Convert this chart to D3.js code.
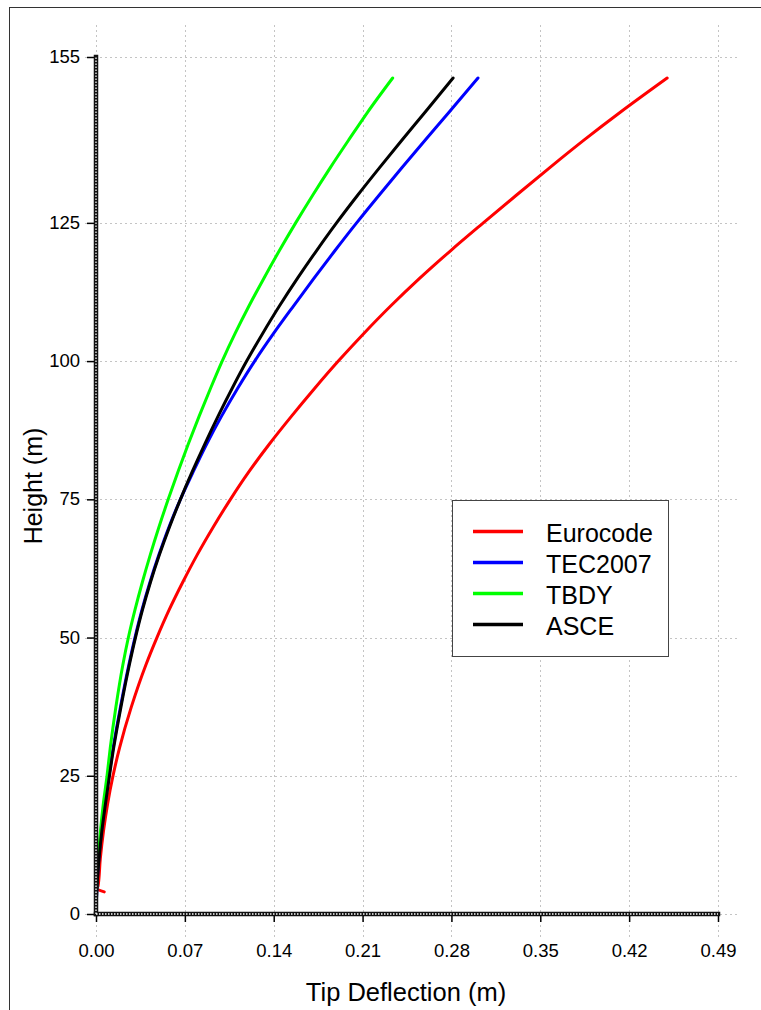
<!DOCTYPE html>
<html>
<head>
<meta charset="utf-8">
<script src="https://cdn.jsdelivr.net/npm/d3@7"></script>
<style>
  html, body { margin: 0; padding: 0; background: #fff; }
  svg { display: block; }
  text { font-family: "Liberation Sans", Arial, sans-serif; fill: #000; }
</style>
</head>
<body>
<svg id="chart" width="761" height="1010"></svg>
<script>
// Heights along the tower (m) at which tip deflections are sampled
const heights = [0, 5, 10, 15, 20, 25, 30, 37.5, 45, 50, 55, 60, 65, 70, 75, 80, 85, 90,
                 95, 100, 105, 110, 115, 120, 125, 130, 135, 140, 145, 151.2];

// Deflection (m) for each code at the heights above
const eurocode = [null, 0.0016, 0.0034, 0.0059, 0.0092, 0.0134, 0.0185, 0.0279, 0.0392, 0.0480,
                  0.0576, 0.0683, 0.0798, 0.0924, 0.1059, 0.1205, 0.1366, 0.1539, 0.1720, 0.1909,
                  0.2110, 0.2323, 0.2551, 0.2795, 0.3051, 0.3311, 0.3575, 0.3846, 0.4130, 0.4500];
const tec2007  = [0, 0.0008, 0.0022, 0.0043, 0.0071, 0.0102, 0.0135, 0.0193, 0.0258, 0.0307,
                  0.0362, 0.0425, 0.0496, 0.0575, 0.0665, 0.0766, 0.0872, 0.0988, 0.1114, 0.1250,
                  0.1399, 0.1557, 0.1718, 0.1883, 0.2053, 0.2230, 0.2411, 0.2594, 0.2781, 0.3009];
const tbdy     = [0, 0.0006, 0.0018, 0.0035, 0.0058, 0.0087, 0.0112, 0.0157, 0.0211, 0.0255,
                  0.0307, 0.0365, 0.0428, 0.0496, 0.0569, 0.0646, 0.0727, 0.0812, 0.0901, 0.0994,
                  0.1096, 0.1206, 0.1323, 0.1445, 0.1573, 0.1707, 0.1846, 0.1991, 0.2139, 0.2337];
const asce     = [0, 0.0008, 0.0024, 0.0046, 0.0075, 0.0106, 0.0139, 0.0197, 0.0262, 0.0311,
                  0.0366, 0.0429, 0.0500, 0.0579, 0.0665, 0.0758, 0.0857, 0.0961, 0.1071, 0.1187,
                  0.1313, 0.1446, 0.1588, 0.1738, 0.1895, 0.2061, 0.2234, 0.2411, 0.2592, 0.2813];

// Short kink at the foot of the Eurocode curve
const eurocodeFootHeights = [4.0, 4.6];
const eurocodeFootDefl    = [0.0065, 0.0005];

// Axis ticks
const xTicks = [0, 0.07, 0.14, 0.21, 0.28, 0.35, 0.42, 0.49];
const yTicks = [0, 25, 50, 75, 100, 125, 155];

// Legend entries
const seriesNames  = ["Eurocode", "TEC2007", "TBDY", "ASCE"];
const seriesColors = ["#ff0000", "#0000ff", "#00ff00", "#000000"];

const svg = d3.select("#chart");

const x = d3.scaleLinear().domain([0, 0.49]).range([96, 718]);
const y = d3.scaleLinear().domain([0, 155]).range([914, 57]);

// Outer frame
svg.append("rect")
  .attr("x", 9.5).attr("y", 7.5)
  .attr("width", 800).attr("height", 1050)
  .attr("fill", "none").attr("stroke", "#333").attr("stroke-width", 1);

// Dotted grid, reaching slightly past the plot area
const grid = svg.append("g")
  .attr("stroke", "#c4c4c4").attr("stroke-width", 1).attr("stroke-dasharray", "2,3");
grid.selectAll("line.v").data(xTicks).join("line")
  .attr("class", "v")
  .attr("x1", d => Math.round(x(d)) + 0.5).attr("x2", d => Math.round(x(d)) + 0.5)
  .attr("y1", 25).attr("y2", 940);
grid.selectAll("line.h").data(yTicks).join("line")
  .attr("class", "h")
  .attr("y1", d => Math.round(y(d)) + 0.5).attr("y2", d => Math.round(y(d)) + 0.5)
  .attr("x1", 85).attr("x2", 740);

// Curves
const line = d3.line()
  .curve(d3.curveMonotoneY)
  .x(d => x(d[0]))
  .y(d => y(d[1]));

const eurocodePts = eurocodeFootHeights.map((h, i) => [eurocodeFootDefl[i], h])
  .concat(heights.map((h, i) => [eurocode[i], h]).filter(d => d[0] != null));

const series = [
  eurocodePts,
  heights.map((h, i) => [tec2007[i], h]),
  heights.map((h, i) => [tbdy[i], h]),
  heights.map((h, i) => [asce[i], h])
];

svg.append("g").selectAll("path").data(series).join("path")
  .attr("d", line)
  .attr("fill", "none")
  .attr("stroke", (d, i) => seriesColors[i])
  .attr("stroke-width", 3)
  .attr("stroke-linejoin", "round")
  .attr("stroke-linecap", "round");

// Axes built with d3 axis generators, restyled as heavy dotted spines
const xAxis = svg.append("g")
  .attr("transform", `translate(0,${y(0)})`)
  .call(d3.axisBottom(x).tickValues(xTicks).tickFormat(d3.format(".2f")).tickSize(8).tickPadding(24));
const yAxis = svg.append("g")
  .attr("transform", `translate(${x(0)},0)`)
  .call(d3.axisLeft(y).tickValues(yTicks).tickSize(9).tickPadding(7));

[xAxis, yAxis].forEach(g => {
  g.select(".domain").remove();
  g.selectAll(".tick line").attr("stroke", "#000").attr("stroke-width", 1.5);
  g.selectAll("text")
    .attr("fill", "#000")
    .style("font-family", "'Liberation Sans', Arial, sans-serif")
    .style("font-size", "18.5px");
});
xAxis.selectAll("text").attr("dy", null).attr("y", 43);
yAxis.selectAll("text").attr("dy", "0.3em");

// Heavy spines with a white dotted core
const spines = [
  [x(0), y(0), x(0.49), y(0)],
  [x(0), y(0), x(0), y(155)]
];
svg.append("g").selectAll("line").data(spines).join("line")
  .attr("x1", d => d[0]).attr("y1", d => d[1]).attr("x2", d => d[2]).attr("y2", d => d[3])
  .attr("stroke", "#111").attr("stroke-width", 4.5).attr("stroke-linecap", "square");
svg.append("g").selectAll("line").data(spines).join("line")
  .attr("x1", d => d[0]).attr("y1", d => d[1]).attr("x2", d => d[2]).attr("y2", d => d[3])
  .attr("stroke", "#fff").attr("stroke-width", 1.3).attr("stroke-dasharray", "1.5,1.5");

// Axis titles
svg.append("text")
  .attr("x", 406).attr("y", 1001)
  .attr("text-anchor", "middle")
  .style("font-size", "25.5px")
  .text("Tip Deflection (m)");
svg.append("text")
  .attr("transform", "translate(42,486) rotate(-90)")
  .attr("text-anchor", "middle")
  .style("font-size", "25px")
  .text("Height (m)");

// Legend
const legend = svg.append("g");
legend.append("rect")
  .attr("x", 452.5).attr("y", 500.5).attr("width", 216).attr("height", 156)
  .attr("fill", "#fff").attr("stroke", "#444").attr("stroke-width", 1);
const items = legend.selectAll("g.item").data(seriesNames).join("g")
  .attr("class", "item")
  .attr("transform", (d, i) => `translate(0,${531.5 + i * 31})`);
items.append("line")
  .attr("x1", 473).attr("x2", 523).attr("y1", 0).attr("y2", 0)
  .attr("stroke", (d, i) => seriesColors[i]).attr("stroke-width", 3.5);
items.append("text")
  .attr("x", 546).attr("y", 10)
  .style("font-size", "25px")
  .text(d => d);
</script>
</body>
</html>
